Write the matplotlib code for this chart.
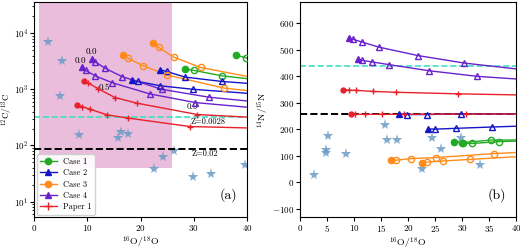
import matplotlib
matplotlib.use("Agg")
import matplotlib.pyplot as plt
import numpy as np

plt.rcParams.update({
    "font.family": "serif",
    "font.serif": ["cmr10", "DejaVu Serif"],
    "mathtext.fontset": "cm",
    "axes.unicode_minus": False,
    "axes.formatter.use_mathtext": True,
    "font.size": 7,
})

# ---------------- colours ----------------
C_GREEN = "#22aa22"
C_BLUE = "#1515c8"
C_ORANGE = "#ff8c1a"
C_PURPLE = "#6a22cc"
C_RED = "#e8202a"
C_STAR = "#6a9bc6"

# ---------------- data: panel (a) 12C/13C vs 16O/18O ----------------
# each track: x values, y values; first point filled, rest open, last entry = line end (no marker)
case1_a = [([28.4, 30.1, 35.3, 40.0], [2320, 2170, 1740, 1550]),
           ([37.9, 39.8, 40.0], [4070, 3650, 3600])]
case2_a = [([23.7, 24.9, 28.4, 35.3, 40.0], [2230, 2080, 1650, 1380, 1280]),
           ([18.4, 19.6, 23.7, 29.9, 40.0], [1480, 1380, 1155, 1000, 850])]
case3_a = [([22.4, 23.4, 26.2, 31.3, 40.0], [6680, 5570, 3760, 2450, 1700]),
           ([16.8, 17.7, 20.5, 24.9, 35.7, 40.0], [4130, 3550, 2630, 1810, 1050, 950])]
case4_a = [([9.1, 9.7, 11.5, 14.6, 21.7, 30.3, 40.0], [2450, 2170, 1740, 1320, 830, 580, 480]),
           ([10.8, 11.5, 13.3, 16.5, 24.0, 32.8, 40.0], [3470, 3100, 2390, 1690, 1000, 725, 620])]
paper1_a = [([9.4, 10.2, 12.1, 15.2, 19.3, 30.7, 40.0], [1430, 1290, 1020, 714, 567, 355, 320]),
            ([8.0, 9.0, 10.5, 13.7, 17.7, 29.3, 40.0], [523, 493, 443, 351, 307, 217, 205])]
stars_a_x = [2.7, 5.2, 4.8, 8.5, 15.8, 16.3, 17.7, 22.6, 24.3, 26.2, 29.8, 33.2, 39.7]
stars_a_y = [7100, 3140, 765, 155, 138, 172, 158, 38, 63, 80, 27, 31, 44]

# ---------------- data: panel (b) 14N/15N vs 16O/18O ----------------
case1_b = [([28.5, 30.2, 35.4, 40.0], [154, 150, 160, 160]),
           ([30.0, 31.9, 36.9, 40.0], [148, 147, 154, 156])]
case2_b = [([23.7, 25.0, 28.8, 35.5, 40.0], [202, 201, 204, 209, 212]),
           ([18.4, 19.75, 23.5, 29.9, 40.0], [259, 256, 256, 259, 259])]
case3_b = [([22.5, 23.5, 26.4, 31.5, 40.0], [75, 77, 81, 87, 97]),
           ([16.85, 17.8, 20.5, 25.2, 36.0, 40.0], [84, 84, 90, 94, 109, 113])]
case4_b = [([9.0, 9.75, 11.5, 14.6, 21.9, 30.4, 40.0], [546, 540, 529, 510, 478, 450, 428]),
           ([10.8, 11.5, 13.4, 16.5, 23.9, 32.8, 40.0], [465, 460, 454, 444, 421, 400, 390])]
paper1_b = [([9.4, 10.2, 12.1, 15.2, 19.3, 30.7, 40.0], [257, 257, 257, 257, 257, 258, 258]),
            ([8.0, 9.0, 10.4, 13.6, 17.7, 29.3, 40.0], [350, 348, 347, 343, 340, 334, 330])]
stars_b_x = [2.65, 5.1, 4.8, 4.8, 8.5, 15.7, 16.2, 17.9, 22.5, 24.4, 26.2, 29.9, 33.3]
stars_b_y = [28, 175, 121, 110, 109, 216, 159, 159, 52, 166, 127, 166, 66]

solar_a = 88        # Z=0.02
lowZ_a = 327        # Z=0.0028
solar_b = 259
lowZ_b = 437

labels_a = [("0.0", 8.8, 3230), ("0.0", 10.8, 4600), ("0.5", 13.2, 1075), ("0.9", 29.7, 487)]

fig = plt.figure(figsize=(5.2, 2.5), dpi=100)
axa = fig.add_axes([34/520, 1-217/250, (247-34)/520, 215/250])
axb = fig.add_axes([300/520, 1-217/250, (516-300)/520, 215/250])


def draw_tracks(ax, tracks, color, marker, ms, label):
    for i, (xs, ys) in enumerate(tracks):
        xs = np.asarray(xs); ys = np.asarray(ys)
        ax.plot(xs, ys, color=color, lw=1.0, zorder=3)
        if marker == "+":
            ax.plot(xs[:1], ys[:1], "o", color=color, ms=3.5, zorder=4)
            ax.plot(xs[1:-1], ys[1:-1], "+", color=color, ms=5, mew=1.0, zorder=4)
        else:
            ax.plot(xs[:1], ys[:1], marker, color=color, ms=ms, zorder=4)
            ax.plot(xs[1:-1], ys[1:-1], marker, mfc="none", mec=color, ms=ms, mew=1.0, zorder=4)
    ax.plot([], [], marker=marker, color=color, ms=ms if marker != "+" else 6, lw=1.0, label=label)


for ax, c1, c2, c3, c4, p1, sx, sy in [
        (axa, case1_a, case2_a, case3_a, case4_a, paper1_a, stars_a_x, stars_a_y),
        (axb, case1_b, case2_b, case3_b, case4_b, paper1_b, stars_b_x, stars_b_y)]:
    ax.plot(sx, sy, "*", color=C_STAR, ms=8, alpha=0.85, mew=0, zorder=2)
    draw_tracks(ax, c1, C_GREEN, "o", 4.5, "Case 1")
    draw_tracks(ax, c2, C_BLUE, "^", 4.5, "Case 2")
    draw_tracks(ax, c3, C_ORANGE, "o", 4.5, "Case 3")
    draw_tracks(ax, c4, C_PURPLE, "^", 4.5, "Case 4")
    draw_tracks(ax, p1, C_RED, "+", 5, "Paper 1")

# panel (a)
axa.set_yscale("log")
axa.set_xlim(0, 40)
axa.set_ylim(5.3, 3.6e4)
axa.fill_between([1, 26], 40, 1e6, color="#e9bddb", zorder=0, lw=0)
axa.axhline(solar_a, color="k", ls="--", lw=1.4, zorder=2.5)
axa.axhline(lowZ_a, color="#40e0c0", ls="--", lw=1.2, zorder=2.5)
axa.text(32.1, 71, "Z=0.02", ha="center", va="center", fontsize=6)
axa.text(32.7, 266, "Z=0.0028", ha="center", va="center", fontsize=6)
for t, x, y in labels_a:
    axa.text(x, y, t, ha="center", va="center", fontsize=6.5)
axa.set_xticks([0, 10, 20, 30, 40])
axa.set_xlabel(r"$^{16}$O/$^{18}$O", fontsize=7, labelpad=1)
axa.set_ylabel(r"$^{12}$C/$^{13}$C", fontsize=6.5)
axa.yaxis.set_label_coords(-0.09, 0.5)
axa.text(0.955, 0.07, "(a)", transform=axa.transAxes, ha="right", va="bottom", fontsize=10)
leg = axa.legend(loc="lower left", fontsize=6, borderaxespad=0.3, handlelength=2.0,
                 labelspacing=0.35, borderpad=0.4, framealpha=0.9)

# panel (b)
axb.set_xlim(0, 40)
axb.set_ylim(-130, 680)
axb.axhline(solar_b, color="k", ls="--", lw=1.4, zorder=2.5)
axb.axhline(lowZ_b, color="#40e0c0", ls="--", lw=1.2, zorder=2.5)
axb.set_xticks(np.arange(0, 41, 5))
axb.set_yticks(np.arange(-100, 601, 100))
axb.set_xlabel(r"$^{16}$O/$^{18}$O", fontsize=7, labelpad=1)
axb.set_ylabel(r"$^{14}$N/$^{15}$N", fontsize=7, labelpad=1)
axb.text(0.955, 0.07, "(b)", transform=axb.transAxes, ha="right", va="bottom", fontsize=10)

for ax in (axa, axb):
    ax.tick_params(labelsize=6.5, length=3, pad=1.5)
    ax.tick_params(which="minor", length=1.5)
axa.tick_params(axis="y", pad=1)

fig.savefig("out.png", dpi=100)
